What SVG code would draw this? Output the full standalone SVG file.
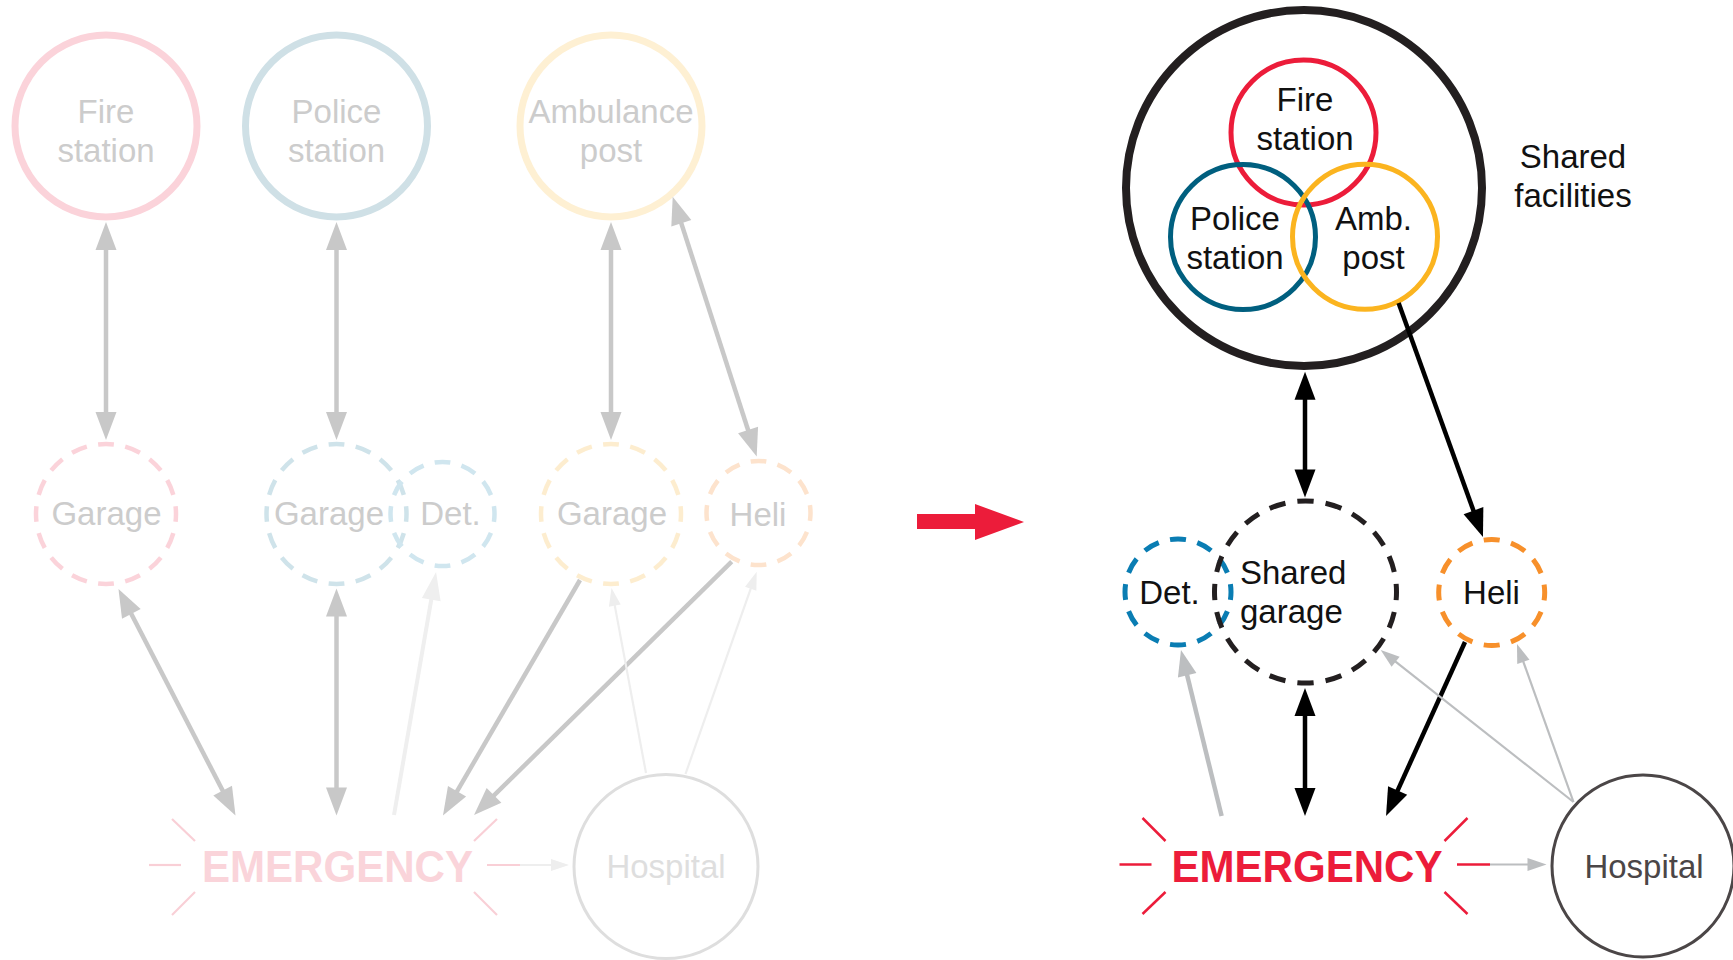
<svg xmlns="http://www.w3.org/2000/svg" width="1733" height="960" viewBox="0 0 1733 960">
<style>
text{font-family:"Liberation Sans",Arial,sans-serif;font-size:33px;text-anchor:middle}
.lt{fill:#cccccc}
.dk{fill:#111111}
.em{font-weight:bold;font-size:44px}
.dash{fill:none;stroke-dasharray:0.58 0.42;stroke-dashoffset:0.29}
.gl{stroke:#c8c8c8;stroke-width:4.5;fill:none}
.ll{stroke:#efefef;stroke-width:4;fill:none}
.lt2{stroke:#eeeeee;stroke-width:2.2;fill:none}
.bk{stroke:#000;stroke-width:4.5;fill:none}
.gr{stroke:#bcbec0;stroke-width:4.5;fill:none}
.gr2{stroke:#bcbec0;stroke-width:2.2;fill:none}
.burstL{stroke:#f9cfd6;stroke-width:2.2}
.burstR{stroke:#ec1c3a;stroke-width:2.5}
</style>
<defs>
<marker id="aL" markerUnits="userSpaceOnUse" markerWidth="40" markerHeight="40" orient="auto-start-reverse" refX="0" refY="0" overflow="visible"><path d="M-16,-10.5 L12,0 L-16,10.5 z" fill="#c8c8c8"/></marker>
<marker id="aLL" markerUnits="userSpaceOnUse" markerWidth="40" markerHeight="40" orient="auto-start-reverse" refX="0" refY="0" overflow="visible"><path d="M-16,-9.5 L12,0 L-16,9.5 z" fill="#efefef"/></marker>
<marker id="aLs" markerUnits="userSpaceOnUse" markerWidth="40" markerHeight="40" orient="auto-start-reverse" refX="0" refY="0" overflow="visible"><path d="M-12,-6 L6,0 L-12,6 z" fill="#eeeeee"/></marker>
<marker id="aB" markerUnits="userSpaceOnUse" markerWidth="40" markerHeight="40" orient="auto-start-reverse" refX="0" refY="0" overflow="visible"><path d="M-16,-10.5 L12,0 L-16,10.5 z" fill="#000"/></marker>
<marker id="aG" markerUnits="userSpaceOnUse" markerWidth="40" markerHeight="40" orient="auto-start-reverse" refX="0" refY="0" overflow="visible"><path d="M-15,-9.5 L11,0 L-15,9.5 z" fill="#bcbec0"/></marker>
<marker id="aGs" markerUnits="userSpaceOnUse" markerWidth="40" markerHeight="40" orient="auto-start-reverse" refX="0" refY="0" overflow="visible"><path d="M-13,-6.5 L6,0 L-13,6.5 z" fill="#bcbec0"/></marker>
</defs>
<rect width="1733" height="960" fill="#ffffff"/>

<!-- LEFT: separate facilities -->
<g id="l-fire-station"><circle cx="106" cy="126" r="91" fill="none" stroke="#fbd3da" stroke-width="7"/><text class="lt" x="106" y="123">Fire</text><text class="lt" x="106" y="162">station</text></g>
<g id="l-police-station"><circle cx="336.5" cy="126" r="91" fill="none" stroke="#cfe0e6" stroke-width="7"/><text class="lt" x="336.5" y="123">Police</text><text class="lt" x="336.5" y="162">station</text></g>
<g id="l-ambulance-post"><circle cx="611" cy="126" r="91" fill="none" stroke="#fef0d3" stroke-width="7"/><text class="lt" x="611" y="123">Ambulance</text><text class="lt" x="611" y="162">post</text></g>

<g id="l-fire-garage"><circle class="dash" cx="106" cy="514" r="70" pathLength="16" stroke="#fbd3da" stroke-width="4.5"/><text class="lt" x="106.5" y="525">Garage</text></g>
<g id="l-police-garage"><circle class="dash" cx="336.5" cy="514" r="70" pathLength="16" stroke="#cfe3ea" stroke-width="4.5"/><text class="lt" x="329" y="525">Garage</text></g>
<g id="l-det"><circle class="dash" cx="442.5" cy="514" r="52" pathLength="12" stroke="#d0e6ef" stroke-width="4.5"/><text class="lt" x="450.5" y="525">Det.</text></g>
<g id="l-amb-garage"><circle class="dash" cx="611" cy="514" r="70" pathLength="16" stroke="#fdedcf" stroke-width="4.5"/><text class="lt" x="612" y="525">Garage</text></g>
<g id="l-heli"><circle class="dash" cx="758.5" cy="513" r="52" pathLength="12" stroke="#fde3cd" stroke-width="4.5"/><text class="lt" x="758" y="525.5">Heli</text></g>

<g id="l-emergency">
<text class="em" x="337.5" y="882" fill="#fad4da" textLength="271" lengthAdjust="spacingAndGlyphs">EMERGENCY</text>
<line class="burstL" x1="149" y1="865" x2="181" y2="865"/>
<line class="burstL" x1="172" y1="819" x2="195" y2="841"/>
<line class="burstL" x1="172" y1="915" x2="195" y2="892"/>
<line class="burstL" x1="474" y1="841" x2="497" y2="819"/>
<line class="burstL" x1="474" y1="892" x2="497" y2="915"/>
<line class="burstL" x1="487" y1="865" x2="520" y2="865"/>
</g>
<g id="l-hospital"><circle cx="666" cy="866.5" r="92" fill="none" stroke="#dedede" stroke-width="3"/><text x="666" y="878" fill="#dedede">Hospital</text></g>

<g id="l-connectors">
<line class="gl" x1="106" y1="234" x2="106" y2="428" marker-start="url(#aL)" marker-end="url(#aL)"/>
<line class="gl" x1="336.5" y1="234" x2="336.5" y2="428" marker-start="url(#aL)" marker-end="url(#aL)"/>
<line class="gl" x1="611" y1="234" x2="611" y2="428" marker-start="url(#aL)" marker-end="url(#aL)"/>
<line class="gl" x1="676.4" y1="208.1" x2="753" y2="445.2" marker-start="url(#aL)" marker-end="url(#aL)"/>
<line class="gl" x1="124" y1="599.7" x2="230" y2="804.8" marker-start="url(#aL)" marker-end="url(#aL)"/>
<line class="gl" x1="336.5" y1="600.5" x2="336.5" y2="803.5" marker-start="url(#aL)" marker-end="url(#aL)"/>
<line class="ll" x1="394" y1="815" x2="434" y2="583.8" marker-end="url(#aLL)"/>
<line class="gl" x1="580" y1="580" x2="449" y2="805.1" marker-end="url(#aL)"/>
<line class="gl" x1="731.7" y1="561.7" x2="482.6" y2="806.6" marker-end="url(#aL)"/>
<line class="lt2" x1="646" y1="773" x2="612.6" y2="593.9" marker-end="url(#aLs)"/>
<line class="lt2" x1="685.5" y1="774" x2="754.7" y2="577.4" marker-end="url(#aLs)"/>
<line class="lt2" x1="520" y1="865" x2="563" y2="865" marker-end="url(#aLs)"/>
</g>

<!-- transition arrow -->
<polygon id="transition-arrow" points="917,514 975,514 975,504 1024,522 975,540 975,529 917,529" fill="#ec1c3a"/>

<!-- RIGHT: shared facilities -->
<g id="r-shared-facilities">
<circle cx="1304" cy="188" r="178" fill="none" stroke="#231f20" stroke-width="8"/>
<circle cx="1303.5" cy="132.5" r="72.5" fill="none" stroke="#ec1c3a" stroke-width="5"/>
<circle cx="1243" cy="237" r="72.5" fill="none" stroke="#005f7f" stroke-width="5"/>
<circle cx="1365" cy="236.7" r="72.5" fill="none" stroke="#fbb41f" stroke-width="5"/>
<text class="dk" x="1305" y="111">Fire</text><text class="dk" x="1305" y="150">station</text>
<text class="dk" x="1235" y="230">Police</text><text class="dk" x="1235" y="268.7">station</text>
<text class="dk" x="1373.5" y="230">Amb.</text><text class="dk" x="1373.5" y="268.7">post</text>
<text class="dk" x="1573" y="167.7">Shared</text><text class="dk" x="1573" y="206.7">facilities</text>
</g>
<g id="r-det"><circle class="dash" cx="1178" cy="592" r="53" pathLength="12" stroke="#0a7db3" stroke-width="5"/><text class="dk" x="1169.5" y="604">Det.</text></g>
<g id="r-shared-garage"><circle class="dash" cx="1305.5" cy="592" r="91" pathLength="20" stroke="#231f20" stroke-width="5"/><text class="dk" x="1240" y="584" style="text-anchor:start">Shared</text><text class="dk" x="1240" y="623" style="text-anchor:start">garage</text></g>
<g id="r-heli"><circle class="dash" cx="1491.7" cy="592.5" r="53" pathLength="12" stroke="#f7902b" stroke-width="5"/><text class="dk" x="1491.5" y="604">Heli</text></g>
<g id="r-emergency">
<text class="em" x="1307" y="882" fill="#ec1c3a" textLength="271" lengthAdjust="spacingAndGlyphs">EMERGENCY</text>
<line class="burstR" x1="1119.5" y1="864.5" x2="1151.5" y2="864.5"/>
<line class="burstR" x1="1142.5" y1="818" x2="1165.5" y2="841"/>
<line class="burstR" x1="1142.5" y1="914" x2="1165.5" y2="892"/>
<line class="burstR" x1="1444.5" y1="841" x2="1467.5" y2="818"/>
<line class="burstR" x1="1444.5" y1="892" x2="1467.5" y2="914"/>
<line class="burstR" x1="1457" y1="864.5" x2="1490" y2="864.5"/>
</g>
<g id="r-hospital"><circle cx="1643" cy="866" r="91" fill="none" stroke="#4b4647" stroke-width="3"/><text x="1644" y="878" fill="#4b4647">Hospital</text></g>

<g id="r-connectors">
<line class="bk" x1="1305" y1="383.7" x2="1305" y2="485.5" marker-start="url(#aB)" marker-end="url(#aB)"/>
<line class="bk" x1="1398.6" y1="303" x2="1478.9" y2="525.7" marker-end="url(#aB)"/>
<line class="bk" x1="1305" y1="700" x2="1305" y2="804" marker-start="url(#aB)" marker-end="url(#aB)"/>
<line class="bk" x1="1465" y1="642" x2="1391" y2="805.1" marker-end="url(#aB)"/>
<line class="gr" x1="1221.6" y1="816" x2="1183.6" y2="660.7" marker-end="url(#aG)"/>
<line class="gr2" x1="1573.5" y1="802" x2="1385.4" y2="653.7" marker-end="url(#aGs)"/>
<line class="gr2" x1="1573.5" y1="802" x2="1519" y2="649.6" marker-end="url(#aGs)"/>
<line class="gr2" x1="1490" y1="864.5" x2="1540.5" y2="864.5" marker-end="url(#aGs)"/>
</g>
</svg>
